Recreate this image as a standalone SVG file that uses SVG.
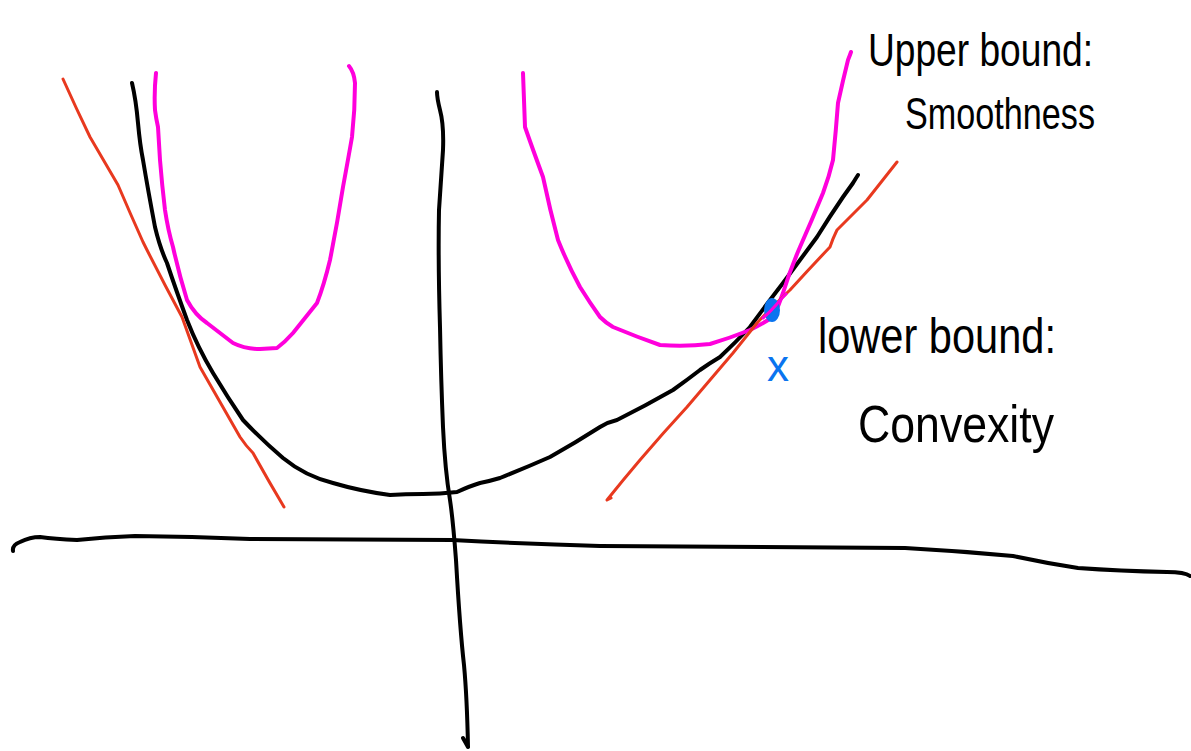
<svg xmlns="http://www.w3.org/2000/svg" width="1191" height="751" viewBox="0 0 1191 751">
<style>
.ink{fill:none;stroke-linecap:round;stroke-linejoin:round}
.blk{stroke:#000;stroke-width:4}
.red{stroke:#e8391f;stroke-width:3}
.mag{stroke:#ff00dc;stroke-width:4}
.lbl{font-family:"Liberation Sans",Arial,sans-serif;fill:#000}
</style>
<rect width="1191" height="751" fill="#fff"/>
<g id="axes">
<path class="ink blk" d="M13,551 Q12,545 20,542 Q30,537 40,537 Q55,539 77,540 Q105,537 135,536 L192,537 Q220,538 250,539 L452,540 Q530,544 600,546 L905,548 Q960,551 1013,556 Q1045,563 1078,568 Q1120,571 1167,572 Q1185,572 1190,576"/>
<path class="ink blk" d="M437,92 Q437,98 440,110 Q444,125 443,150 Q441,180 439,210 Q438,260 440,327 Q441,380 443,427 Q445,470 450,500 Q453,520 456,560 Q460,630 464,665 Q467,697 468,747 M463,738 L468,747"/>
</g>
<g id="function">
<path class="ink blk" d="M132,83 Q136,100 138,123 Q140,145 143,160 Q148,190 155,227 Q160,248 167,263 Q176,290 187,320 Q198,348 213,373 Q228,398 243,420 Q262,440 283,458 Q305,476 333,483 Q360,491 390,495 Q405,494 423,494 Q440,494 457,492 Q470,486 480,483 Q490,481 500,478 Q525,468 550,457 Q575,443 600,427 Q608,422 617,420 Q645,406 673,390 Q687,380 700,370 Q710,363 720,357 Q735,343 750,327 Q766,305 783,283 Q800,260 817,237 Q830,216 843,197 Q848,190 853,183 Q856,178 858,175"/>
</g>
<g id="upper-bound-left">
<path class="ink mag" d="M156,73 Q154,92 155,110 Q156,118 158,127 Q159,143 160,160 Q162,185 165,210 Q168,230 173,247 Q179,274 187,300 Q195,315 207,323 Q220,333 233,343 Q245,349 260,349 L277,348 Q285,342 293,333 Q305,318 317,303 Q324,285 330,260 Q337,225 343,187 Q348,160 352,137 Q355,110 355,83 Q354,72 349,66"/>
</g>
<g id="upper-bound-right">
<path class="ink mag" d="M523,73 Q524,100 525,127 Q533,150 543,177 Q550,210 558,240 Q568,265 580,287 Q590,303 600,317 Q606,323 613,327 Q637,337 660,345 Q685,347 710,344 Q730,338 750,330 Q762,324 773,317 Q779,305 783,293 Q790,270 800,247 Q812,220 823,193 Q829,177 833,160 Q836,130 838,103 Q843,80 848,60 Q850,55 851,52"/>
</g>
<g id="lower-bound-left">
<path class="ink red" d="M63,79 Q76,108 90,137 Q104,161 118,185 Q130,213 143,242 Q162,280 182,317 Q191,342 200,367 Q220,402 240,437 Q246,446 253,453 Q268,480 284,507"/>
</g>
<g id="lower-bound-right">
<path class="ink red" d="M611,498 L607,500 Q623,480 640,460 Q663,433 687,407 Q710,380 733,353 Q745,338 757,323 Q773,306 790,290 Q810,268 830,247 Q833,238 837,230 Q852,215 867,200 Q882,181 897,162"/>
</g>
<g id="point-x">
<ellipse cx="772" cy="310" rx="8" ry="12" fill="#0a74ef"/>
<path class="ink mag" d="M763,318 Q770,312 776,305 Q782,298 786,294" style="stroke-width:3"/>
<text x="767" y="381" font-family="Liberation Sans,Arial,sans-serif" font-size="44" fill="#0a74ef">x</text>
</g>
<g id="labels">
<text class="lbl" x="868" y="66" font-size="46" textLength="225" lengthAdjust="spacingAndGlyphs">Upper bound:</text>
<text class="lbl" x="905" y="129" font-size="44" textLength="190" lengthAdjust="spacingAndGlyphs">Smoothness</text>
<text class="lbl" x="818" y="353" font-size="50" textLength="238" lengthAdjust="spacingAndGlyphs">lower bound:</text>
<text class="lbl" x="858" y="442" font-size="52" textLength="196" lengthAdjust="spacingAndGlyphs">Convexity</text>
</g>
</svg>
